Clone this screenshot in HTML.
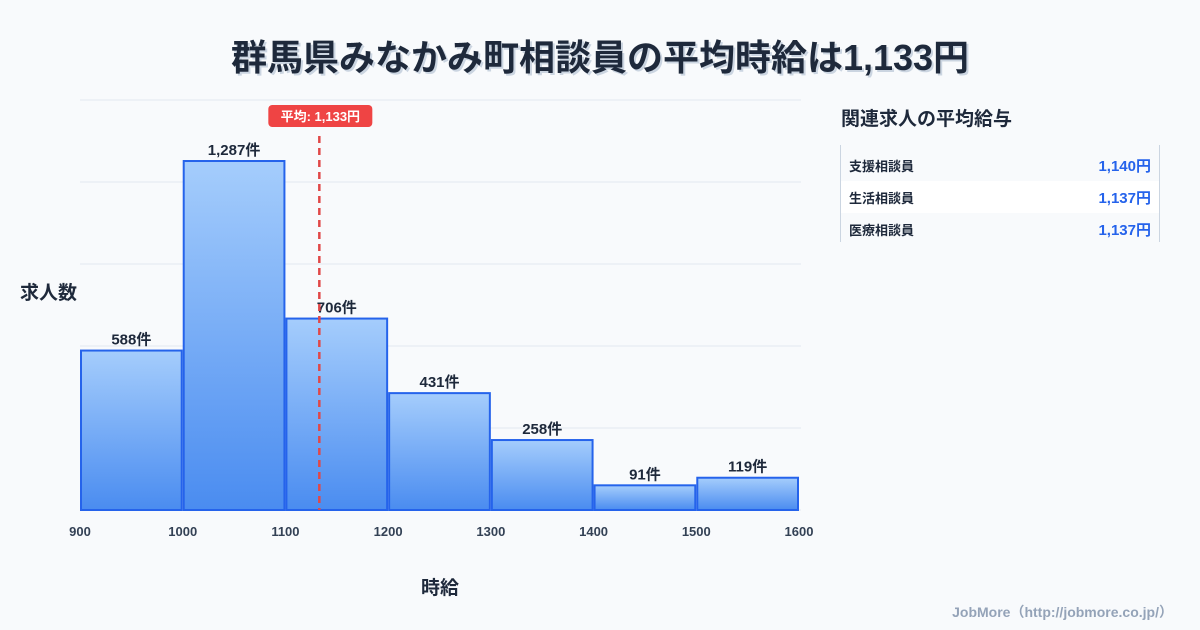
<!DOCTYPE html>
<html><head><meta charset="utf-8">
<style>
body{margin:0;width:1200px;height:630px;background:#f8fafc;font-family:"Liberation Sans","Noto Sans CJK JP",sans-serif;overflow:hidden;position:relative;color:#1e293b}
.title{position:absolute;left:0;width:1200px;top:29px;text-align:center;font-size:36px;font-weight:bold;color:#1e293b;text-shadow:2px 2px 0 #cbd5e1}
.side{position:absolute;left:841px;top:104px;font-size:19px;font-weight:bold;color:#1e293b}
.tbl{position:absolute;left:840px;top:145px;width:320px;height:97px;border-left:1px solid #cbd5e1;border-right:1px solid #cbd5e1;padding-top:4px;box-sizing:border-box}
.row{height:32px;display:flex;justify-content:space-between;align-items:center;padding:0 8px 0 8px;font-size:13px;font-weight:bold}
.row .v{color:#2563eb;font-size:15px}
.foot{position:absolute;right:27px;top:602px;font-size:14px;font-weight:bold;color:#94a3b8}
</style></head><body>
<div class="title">群馬県みなかみ町相談員の平均時給は1,133円</div>
<svg id="chart" width="1200" height="630" style="position:absolute;left:0;top:0"></svg>
<div class="side">関連求人の平均給与</div>
<div class="tbl">
<div class="row"><span>支援相談員</span><span class="v">1,140円</span></div>
<div class="row" style="background:#fff"><span>生活相談員</span><span class="v">1,137円</span></div>
<div class="row"><span>医療相談員</span><span class="v">1,137円</span></div>
</div>
<div class="foot">JobMore（http://jobmore.co.jp/）</div>
<script>
const binStarts=[900,1000,1100,1200,1300,1400,1500];
const counts=[588,1287,706,431,258,91,119];
const xTicks=[900,1000,1100,1200,1300,1400,1500,1600];
const avg=1133;
const yMax=1512;
const svg=document.getElementById('chart');
const NS='http://www.w3.org/2000/svg';
const X0=80,X1=799,Y0=510,Y1=100;
const xs=v=>X0+(v-900)/700*(X1-X0);
const ys=v=>Y0-v/yMax*(Y0-Y1);
function mk(t,a){const e=document.createElementNS(NS,t);for(const k in a)e.setAttribute(k,a[k]);svg.appendChild(e);return e;}
const defs=mk('defs',{});
defs.innerHTML='<linearGradient id="g" x1="0" y1="0" x2="0" y2="1"><stop offset="0" stop-color="#a5cdfc"/><stop offset="1" stop-color="#4a8cf0"/></linearGradient>';
for(let i=0;i<=5;i++){const y=Y0-i*(Y0-Y1)/5;const l=mk('line',{x1:X0,x2:X1+2,y1:y,y2:y,stroke:'#e2e8f0','stroke-width':1});
}
binStarts.forEach((b,i)=>{const x=xs(b)+1,w=xs(b+100)-xs(b)-2,y=ys(counts[i]);
const r=mk('rect',{x:x,y:y,width:w,height:Y0-y,fill:'url(#g)',stroke:'#2563eb','stroke-width':2});

const t=mk('text',{x:x+w/2,y:y-6,'text-anchor':'middle','font-size':15,'font-weight':'bold',fill:'#1e293b'});
t.textContent=counts[i].toLocaleString('en-US')+'件';
});
xTicks.forEach(v=>{const t=mk('text',{x:xs(v),y:536,'text-anchor':'middle','font-size':13,'font-weight':'bold',fill:'#334155'});t.textContent=v;
});
const ax=xs(avg);
const al=mk('line',{x1:ax,x2:ax,y1:136,y2:Y0,stroke:'#e04848','stroke-width':2.5,'stroke-dasharray':'7,5'});

const ab=mk('rect',{x:ax-51,y:105,width:104,height:22,rx:4,fill:'#ef4444'});

const at=mk('text',{x:ax+1,y:121,'text-anchor':'middle','font-size':13,'font-weight':'bold',fill:'#fff'});at.textContent='平均: 1,133円';

const yt=mk('text',{x:20,y:299,'font-size':19,'font-weight':'bold',fill:'#1e293b'});yt.textContent='求人数';

const xt=mk('text',{x:440,y:594,'text-anchor':'middle','font-size':19,'font-weight':'bold',fill:'#1e293b'});xt.textContent='時給';

</script>
</body></html>
